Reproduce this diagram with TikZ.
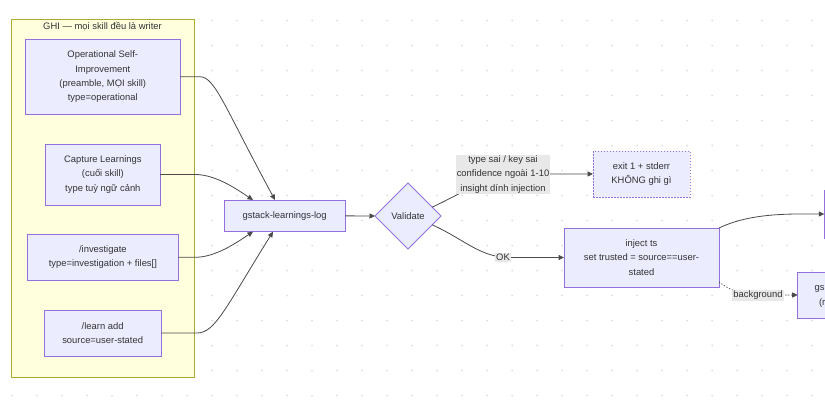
\documentclass[tikz,border=0pt]{standalone}
\usepackage{fontspec}
\setmainfont{Liberation Sans}
\usetikzlibrary{shapes.geometric,arrows.meta,calc}
\definecolor{nodefill}{HTML}{ECECFF}
\definecolor{nodeline}{HTML}{9370DB}
\definecolor{clfill}{HTML}{FFFFDE}
\definecolor{clline}{HTML}{AAAA33}
\definecolor{txt}{HTML}{333333}
\definecolor{edgec}{HTML}{4A4A4A}
\definecolor{lblbg}{HTML}{E8E8E8}
\definecolor{dotc}{HTML}{DDDDDD}
\tikzset{
  mfont/.style={font=\fontsize{9.4}{14.2}\selectfont},
  box/.style={draw=nodeline, fill=nodefill, line width=0.8pt, inner sep=0pt, outer sep=0pt, align=center, text=txt, mfont},
  dbox/.style={box, dash pattern=on 1.5pt off 1.5pt},
  decision/.style={box, diamond, aspect=1, minimum width=66pt, minimum height=66pt},
  cluster/.style={draw=clline, fill=clfill, line width=0.8pt, inner sep=0pt},
  ctitle/.style={text=txt, mfont, inner sep=0pt},
  elabel/.style={fill=lblbg, text=txt, mfont, align=center, inner sep=1pt},
  arr/.style={draw=edgec, line width=0.8pt, -{Triangle[length=5.5pt,width=5pt]}},
  darr/.style={arr, dash pattern=on 1.2pt off 1.8pt},
}
\begin{document}
\begin{tikzpicture}[x=1pt,y=-1pt]
\useasboundingbox (0,0) rectangle (825,415);
\clip (0,0) rectangle (825,415);
\fill[white] (0,0) rectangle (825,415);
\foreach \i in {0,...,32}{\foreach \j in {0,...,15}{\fill[dotc] (12+25*\i,20.5+25*\j) circle (1pt);}}

% cluster
\node[cluster, minimum width=183pt, minimum height=358pt] (cl) at (102.5,198) {};
\node[ctitle] (clt) at (102.5,26.5) {GHI — mọi skill đều là writer};

% writer nodes
\node[box, minimum width=154.5pt, minimum height=74.5pt] (n1) at (102.75,76.75) {Operational Self-\\Improvement\\(preamble, MỌI skill)\\type=operational};
\node[box, minimum width=114.3pt, minimum height=61pt] (n2) at (102.85,174.5) {Capture Learnings\\(cuối skill)\\type tuỳ ngữ cảnh};
\node[box, minimum width=150.3pt, minimum height=46.7pt] (n3) at (102.85,257.3) {/investigate\\type=investigation + files[]};
\node[box, minimum width=116.7pt, minimum height=46pt] (n4) at (102.65,333) {/learn add\\source=user-stated};

% main flow
\node[box, minimum width=120.7pt, minimum height=31.7pt] (gl) at (284.65,215.85) {gstack-learnings-log};
\node[decision] (val) at (408,216) {Validate};
\node[dbox, minimum width=97pt, minimum height=46pt] (err) at (641.5,174) {exit 1 + stderr\\KHÔNG ghi gì};
\node[box, minimum width=155pt, minimum height=59pt] (inj) at (641.5,257.5) {inject ts\\set trusted = source==user-\\stated};
\node[box, minimum width=120pt, minimum height=48pt] (tr) at (884.3,214) {};
\node[box, minimum width=120pt, minimum height=46pt] (br) at (857.7,295) {};
\node[ctitle, anchor=west] (brt1) at (814.5,288.5) {gs};
\node[ctitle, anchor=west] (brt2) at (818.8,303) {(r};

% edges
\draw[arr] (n1.east) -- ++(20,0) .. controls +(15,0) and +(-50,-92) .. ([xshift=-9.65pt]gl.north);
\draw[arr] (n2.east) -- ++(35,0) .. controls +(20,0) and +(-18,-12) .. ([xshift=-31.65pt]gl.north);
\draw[arr] (n3.east) -- ++(17,0) .. controls +(20,0) and +(-18,12) .. ([xshift=-31.65pt]gl.south);
\draw[arr] (n4.east) -- ++(36,0) .. controls +(18,0) and +(-48,77) .. ([xshift=-11.65pt]gl.south);
\draw[arr] (gl.east) -- (val.west);
\draw[arr] (val.20) .. controls +(38,-18) and +(-30,0) .. ([xshift=-73pt]err.west) -- (err.west);
\draw[arr] (val.-20) .. controls +(33,15) and +(-30,0) .. ([xshift=-54pt]inj.west) -- (inj.west);
\draw[arr] (inj.north east) .. controls +(21,-10) and +(-35,0) .. ([xshift=-24pt]tr.west) -- (tr.west);
\draw[darr] ([yshift=5pt]inj.south east) .. controls +(11,8) and +(-20,0) .. ([xshift=-38pt]br.west) -- (br.west);

% edge labels
\node[elabel] (l1) at (503,174.5) {type sai / key sai\\confidence ngoài 1-10\\insight dính injection};
\node[elabel] (l2) at (503,257.5) {OK};
\node[elabel] (l3) at (758,295.5) {background};
\end{tikzpicture}
\end{document}
